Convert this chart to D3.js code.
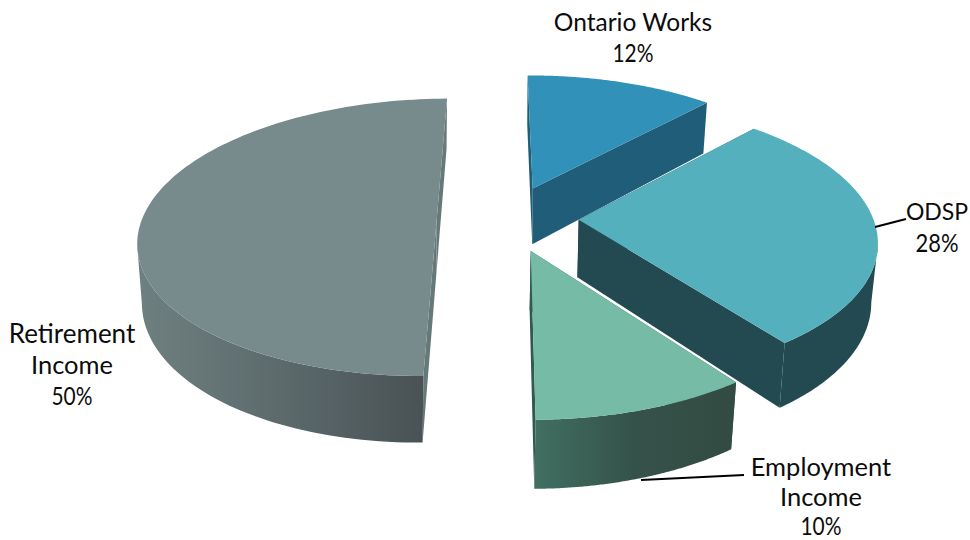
<!DOCTYPE html>
<html>
<head>
<meta charset="utf-8">
<script src="https://cdn.jsdelivr.net/npm/d3@7"></script>
<style>
html,body{margin:0;padding:0;background:#fff}
svg{display:block}
text{font-family:Lato,sans-serif;fill:#0c0c0c;text-anchor:middle}
</style>
</head>
<body>
<svg id="chart" width="970" height="540"></svg>
<script>
// Income sources, in pie order clockwise from the back of the disc
const categories = ["Ontario Works", "ODSP", "Employment Income", "Retirement Income"];
const shares = [12, 28, 10, 50];

const topColors = ["#3191b8", "#55b0be", "#75bba5", "#778a8c"];
const sideStops = [
  ["#205d78", "#205d78", "#205d78"],
  ["#234a50", "#234a50", "#234a50"],
  ["#406f61", "#35524a", "#334b42"],
  ["#6f8080", "#5c6a6c", "#495255"]
];
const cutColors = ["#205d78", "#234a50", "#2f5a4c", "#667979"];

// Label blocks: text lines, anchor points, line spacing, type sizes and condensed widths
const labelLines = [["Ontario Works", "12%"], ["ODSP", "28%"], ["Employment", "Income", "10%"], ["Retirement", "Income", "50%"]];
const labelAnchors = [[633, 31], [937, 220], [821, 476], [72, 343]];
const labelStep = [31, 32, 29.5, 31];
const labelSizes = [[24.5, 25], [23, 25], [25.5, 25.5, 24.5], [26, 25.5, 25]];
const labelWidths = [[null, 41], [null, 43], [null, null, 41], [null, null, 41]];
const leaders = [[[875, 227], [906, 219]], [[641, 480], [744, 475]]];

// Projection of the disc: unit ground plane to screen with foreshortening
const cx = 508, cy = 218, rx = 294.4, ry = 136;
const perspective = 0.137, thickness = 57.5, bottomPinch = 0.982, explode = 0.24;
const sliceLean = [0, 0, 0.012, 0.033];
const sliceNudge = [[0, 0], [0, 0], [0, 1], [-0.5, 0]];
const x = d3.scaleLinear().domain([-1, 1]).range([cx - rx, cx + rx]);
const y = d3.scaleLinear().domain([-1, 1]).range([cy + ry, cy - ry]);

function project(gx, gy, lower, i) {
  const s = 1 / (1 + perspective * gy);
  const px = x(gx * s);
  const py = y(gy * s) + sliceNudge[i][1] + (lower ? thickness * s : 0);
  const sx = lower ? cx + (px - cx) * bottomPinch : px;
  return [sx + sliceLean[i] * (cy - py) + sliceNudge[i][0], py];
}

const pie = d3.pie().sort(null).startAngle(-0.5 * Math.PI / 180).endAngle((360 - 0.5) * Math.PI / 180);
const arcs = pie(shares);
const path = d3.line();
const svg = d3.select("#chart");
const defs = svg.append("defs");

sideStops.forEach((c, i) => {
  const g = defs.append("linearGradient").attr("id", "rim" + i);
  c.forEach((col, j) => {
    g.append("stop").attr("offset", (j * 50) + "%").attr("stop-color", col);
  });
});

// Back slice first, the nearest last
const drawOrder = [0, 3, 1, 2];

drawOrder.forEach(i => {
  const a = arcs[i];
  const mid = (a.startAngle + a.endAngle) / 2;
  const ox = explode * Math.sin(mid), oy = explode * Math.cos(mid);
  const rimAt = (t, lower) => project(ox + Math.sin(t), oy + Math.cos(t), lower, i);
  const steps = d3.range(0, 1.0001, 1 / 120).map(d3.scaleLinear().range([a.startAngle, a.endAngle]));
  const upper = steps.map(t => rimAt(t, false));
  const apexTop = project(ox, oy, false, i), apexLow = project(ox, oy, true, i);
  const g = svg.append("g").attr("class", "slice").datum(categories[i]);

  // Cut faces from the apex to each end of the rim
  steps.filter((t, k) => k === 0 || k === steps.length - 1).forEach(t => {
    g.append("path")
      .attr("d", path([apexTop, rimAt(t, false), rimAt(t, true), apexLow]) + "Z")
      .attr("fill", cutColors[i]);
  });

  // Outer wall, from the widest point of the rim round to the near side
  const widest = steps[d3.greatestIndex(upper, p => Math.abs(p[0] - cx))];
  const front = steps.filter(t => Math.cos(t) <= Math.cos(widest));
  if (front.length > 1) {
    const wall = front.map(t => rimAt(t, false)).concat(front.slice().reverse().map(t => rimAt(t, true)));
    g.append("path").attr("d", path(wall) + "Z").attr("fill", `url(#rim${i})`);
  }

  // Top face
  g.append("path")
    .attr("d", path([apexTop].concat(upper)) + "Z")
    .attr("fill", topColors[i]);
});

svg.selectAll("line.leader").data(leaders).join("line")
  .attr("class", "leader")
  .attr("x1", d => d[0][0]).attr("y1", d => d[0][1])
  .attr("x2", d => d[1][0]).attr("y2", d => d[1][1])
  .attr("stroke", "#000").attr("stroke-width", 2);

labelLines.forEach((lines, i) => {
  const t = svg.append("text");
  lines.forEach((s, j) => {
    const line = t.append("tspan")
      .attr("x", labelAnchors[i][0])
      .attr("y", labelAnchors[i][1] + j * labelStep[i])
      .attr("font-size", labelSizes[i][j])
      .text(s);
    if (labelWidths[i][j]) {
      line.attr("textLength", labelWidths[i][j]).attr("lengthAdjust", "spacingAndGlyphs");
    }
  });
});
</script>
</body>
</html>
